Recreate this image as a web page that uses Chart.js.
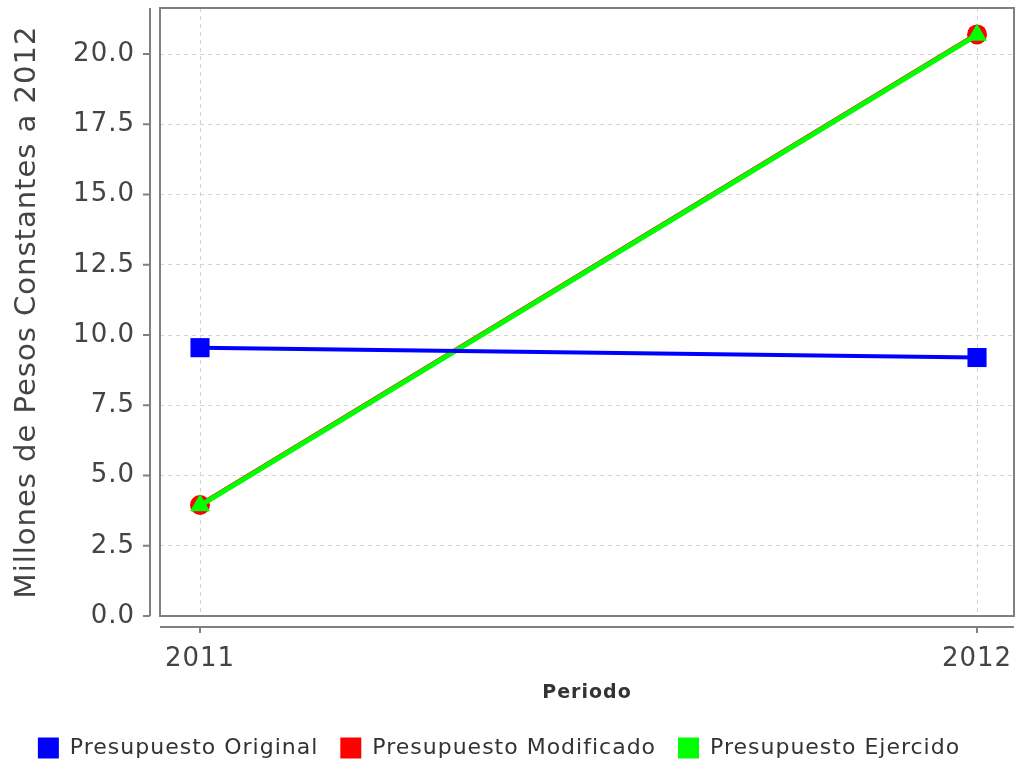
<!DOCTYPE html>
<html>
<head>
<meta charset="utf-8">
<script src="https://cdn.jsdelivr.net/npm/chart.js@4.4.1/dist/chart.umd.min.js"></script>
<style>
  html, body { margin: 0; padding: 0; background: #fff; }
  canvas { display: block; }
</style>
</head>
<body>
<canvas id="grafico" width="1016" height="769"></canvas>
<script>
// Datos (millones de pesos constantes a 2012)
var periodos = ['2011', '2012'];
var presupuestoOriginal = [9.55, 9.2];
var presupuestoModificado = [3.95, 20.7];
var presupuestoEjercido = [3.93, 20.68];
var nombresSeries = ['Presupuesto Original', 'Presupuesto Modificado', 'Presupuesto Ejercido'];
var pasoY = 2.5;

function puntos(valores) {
    return valores.map(function(v, i) { return { x: parseInt(periodos[i]), y: v }; });
}

function sinRelleno(scale) {
    scale.paddingTop = 0;
    scale.paddingBottom = 0;
    scale.paddingLeft = 0;
    scale.paddingRight = 0;
}

// Texto algo espaciado, como en la imagen original
var espaciadoPlugin = {
    id: 'espaciado',
    beforeUpdate: function(chart) { chart.ctx.letterSpacing = '1px'; },
    beforeDraw: function(chart) { chart.ctx.letterSpacing = '1px'; }
};

// Ejes separados del marco, estilo JFreeChart
var marcoPlugin = {
    id: 'marco',
    afterDraw: function(chart) {
        var ctx = chart.ctx;
        var a = chart.chartArea;
        var sx = chart.scales.x, sy = chart.scales.y;
        ctx.save();
        ctx.strokeStyle = '#808080';
        ctx.lineWidth = 2;
        ctx.strokeRect(a.left, a.top, a.right - a.left, a.bottom - a.top);
        // eje Y
        var ex = a.left - 10;
        ctx.beginPath();
        ctx.moveTo(ex, a.top);
        ctx.lineTo(ex, a.bottom);
        sy.ticks.forEach(function(t) {
            var py = sy.getPixelForValue(t.value);
            ctx.moveTo(ex, py);
            ctx.lineTo(ex - 7, py);
        });
        // eje X
        var ey = a.bottom + 11;
        ctx.moveTo(a.left, ey);
        ctx.lineTo(a.right, ey);
        sx.ticks.forEach(function(t) {
            var px = sx.getPixelForValue(t.value);
            ctx.moveTo(px, ey);
            ctx.lineTo(px, ey + 6);
        });
        ctx.stroke();
        ctx.restore();
    }
};

var ctx = document.getElementById('grafico').getContext('2d');

var grafico = new Chart(ctx, {
    type: 'line',
    data: {
        datasets: [{
            label: nombresSeries[0],
            data: puntos(presupuestoOriginal),
            borderColor: '#0000ff',
            backgroundColor: '#0000ff',
            borderWidth: 4,
            pointStyle: 'rect',
            pointRadius: 13.5,
            pointBorderWidth: 0,
            order: 1
        }, {
            label: nombresSeries[1],
            data: puntos(presupuestoModificado),
            borderColor: '#ff0000',
            backgroundColor: '#ff0000',
            borderWidth: 5,
            pointStyle: 'circle',
            pointRadius: 10,
            pointBorderWidth: 0,
            order: 3
        }, {
            label: nombresSeries[2],
            data: puntos(presupuestoEjercido),
            borderColor: '#00ff00',
            backgroundColor: '#00ff00',
            borderWidth: 5,
            pointStyle: 'triangle',
            pointRadius: 11.5,
            pointBorderWidth: 0,
            order: 2
        }]
    },
    options: {
        responsive: false,
        animation: false,
        devicePixelRatio: 1,
        layout: { autoPadding: false, padding: { top: 8, right: 2, left: 0, bottom: 0 } },
        plugins: {
            tooltip: { enabled: false },
            legend: {
                position: 'bottom',
                labels: {
                    boxWidth: 21,
                    boxHeight: 21,
                    padding: 6,
                    color: '#333',
                    font: { family: 'DejaVu Sans', size: 22 },
                    generateLabels: function(chart) {
                        return chart.data.datasets.map(function(ds, i) {
                            return {
                                text: ds.label + '  ',
                                fillStyle: ds.backgroundColor,
                                strokeStyle: ds.backgroundColor,
                                lineWidth: 0,
                                fontColor: '#333',
                                datasetIndex: i
                            };
                        });
                    }
                }
            }
        },
        scales: {
            x: {
                type: 'linear',
                min: 2010.9485,
                max: 2012.0476,
                afterBuildTicks: function(scale) {
                    scale.ticks = periodos.map(function(p) { return { value: parseInt(p) }; });
                },
                afterFit: function(scale) { scale.height = 115; sinRelleno(scale); },
                border: { display: false, dash: [4, 4] },
                grid: {
                    color: '#d4d4d4',
                    lineWidth: 1,
                    drawTicks: false
                },
                ticks: {
                    padding: 28,
                    color: '#444',
                    font: { family: 'DejaVu Sans', size: 26 },
                    callback: function(v) { return String(v); }
                },
                title: {
                    display: true,
                    text: 'Periodo',
                    color: '#333',
                    font: { family: 'DejaVu Sans', size: 19, weight: 'bold' },
                    padding: { top: 6, bottom: 27 }
                }
            },
            y: {
                min: 0,
                max: 21.64,
                afterBuildTicks: function(scale) {
                    scale.ticks = scale.ticks.filter(function(t) {
                        return Math.abs(t.value / pasoY - Math.round(t.value / pasoY)) < 1e-6;
                    });
                },
                afterFit: function(scale) { scale.width = 160; sinRelleno(scale); },
                border: { display: false, dash: [4, 4] },
                grid: {
                    color: '#d4d4d4',
                    lineWidth: 1,
                    drawTicks: false
                },
                ticks: {
                    stepSize: pasoY,
                    padding: 25,
                    color: '#444',
                    font: { family: 'DejaVu Sans', size: 26 },
                    callback: function(v) { return v.toFixed(1); }
                },
                title: {
                    display: true,
                    text: 'Millones de Pesos Constantes a 2012',
                    color: '#444',
                    font: { family: 'DejaVu Sans', size: 29 },
                    padding: { top: 10, bottom: 0 }
                }
            }
        }
    },
    plugins: [espaciadoPlugin, marcoPlugin]
});
</script>
</body>
</html>
